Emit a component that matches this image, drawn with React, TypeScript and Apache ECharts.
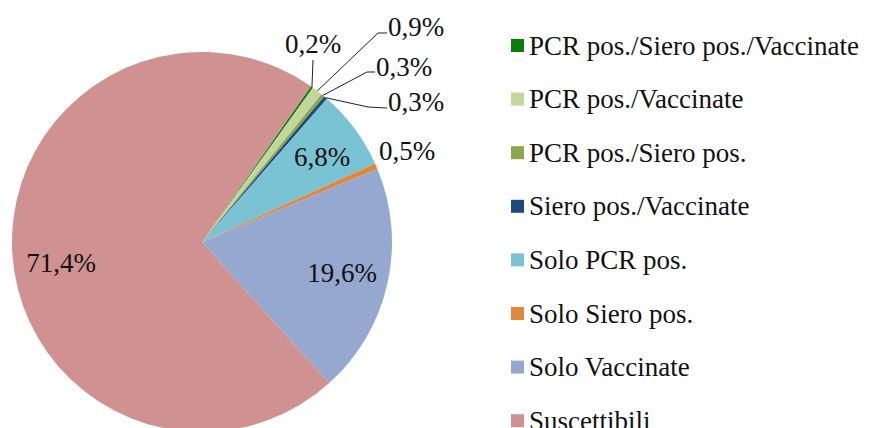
import React, { useEffect, useRef } from "react";
import * as echarts from "echarts";

const categories = [
  "PCR pos./Siero pos./Vaccinate",
  "PCR pos./Vaccinate",
  "PCR pos./Siero pos.",
  "Siero pos./Vaccinate",
  "Solo PCR pos.",
  "Solo Siero pos.",
  "Solo Vaccinate",
  "Suscettibili",
];
const values = [0.2, 0.9, 0.3, 0.3, 6.8, 0.5, 19.6, 71.4];
const colors = ["#0B7D0B", "#C3D69B", "#8AA64F", "#1F497D", "#7AC3D5", "#E0893D", "#95A9D0", "#D09191"];

const FONT = "'Liberation Serif', 'Times New Roman', serif";
const CX = 202;
const CY = 242;
const R = 190;
const START = 55;

// label placements (x, y = text anchor; bend = leader line bend points)
const labelSpots: any[] = [
  { x: 313, y: 44, align: "center", bend: [[313, 60]] },
  { x: 388, y: 27, align: "left", bend: [[378, 33], [387, 33]] },
  { x: 376, y: 67, align: "left", bend: [[367, 72], [375, 72]] },
  { x: 388, y: 102, align: "left", bend: [[368, 107], [387, 108]] },
  { x: 322, y: 157, align: "center", bend: null },
  { x: 407, y: 151, align: "center", bend: null },
  { x: 342, y: 273, align: "center", bend: null },
  { x: 61, y: 263, align: "center", bend: null },
];

function midEdge(i: number): number[] {
  const total = values.reduce((a, b) => a + b, 0);
  let acc = 0;
  for (let k = 0; k < i; k++) acc += values[k];
  const mid = START - ((acc + values[i] / 2) / total) * 360;
  const rad = (mid * Math.PI) / 180;
  return [CX + R * Math.cos(rad), CY - R * Math.sin(rad)];
}

export default function App() {
  const ref = useRef<HTMLDivElement>(null);
  useEffect(() => {
    if (!ref.current) return;
    const chart = echarts.init(ref.current, undefined, { renderer: "svg" });
    chart.setOption({
      animation: false,
      backgroundColor: "#ffffff",
      legend: {
        orient: "vertical",
        left: 511,
        top: 32,
        height: 1000,
        padding: 0,
        itemWidth: 13,
        itemHeight: 13,
        itemGap: 26.6,
        icon: "rect",
        data: categories,
        textStyle: { fontFamily: FONT, fontSize: 27, color: "#111" },
      },
      series: [
        {
          type: "pie",
          center: [CX, CY],
          radius: R,
          startAngle: START,
          clockwise: true,
          avoidLabelOverlap: false,
          itemStyle: { borderWidth: 0 },
          label: {
            show: true,
            position: "outside",
            fontFamily: FONT,
            fontSize: 27,
            color: "#111",
            formatter: (p: any) => `${Number(p.value).toFixed(1).replace(".", ",")}%`,
          },
          labelLine: { show: true, lineStyle: { color: "#222", width: 1 }, smooth: false },
          labelLayout: (params: any) => {
            const s = labelSpots[params.dataIndex];
            const out: any = { x: s.x, y: s.y, align: s.align, verticalAlign: "middle" };
            if (s.bend) out.labelLinePoints = [midEdge(params.dataIndex), ...s.bend];
            return out;
          },
          data: categories.map((name, i) => ({
            name,
            value: values[i],
            itemStyle: { color: colors[i] },
            labelLine: { show: !!labelSpots[i].bend },
          })),
        },
      ],
    });
    return () => chart.dispose();
  }, []);
  return (
    <div
      ref={ref}
      style={{ position: "fixed", left: 0, top: 0, width: 871, height: 428 }}
    />
  );
}
